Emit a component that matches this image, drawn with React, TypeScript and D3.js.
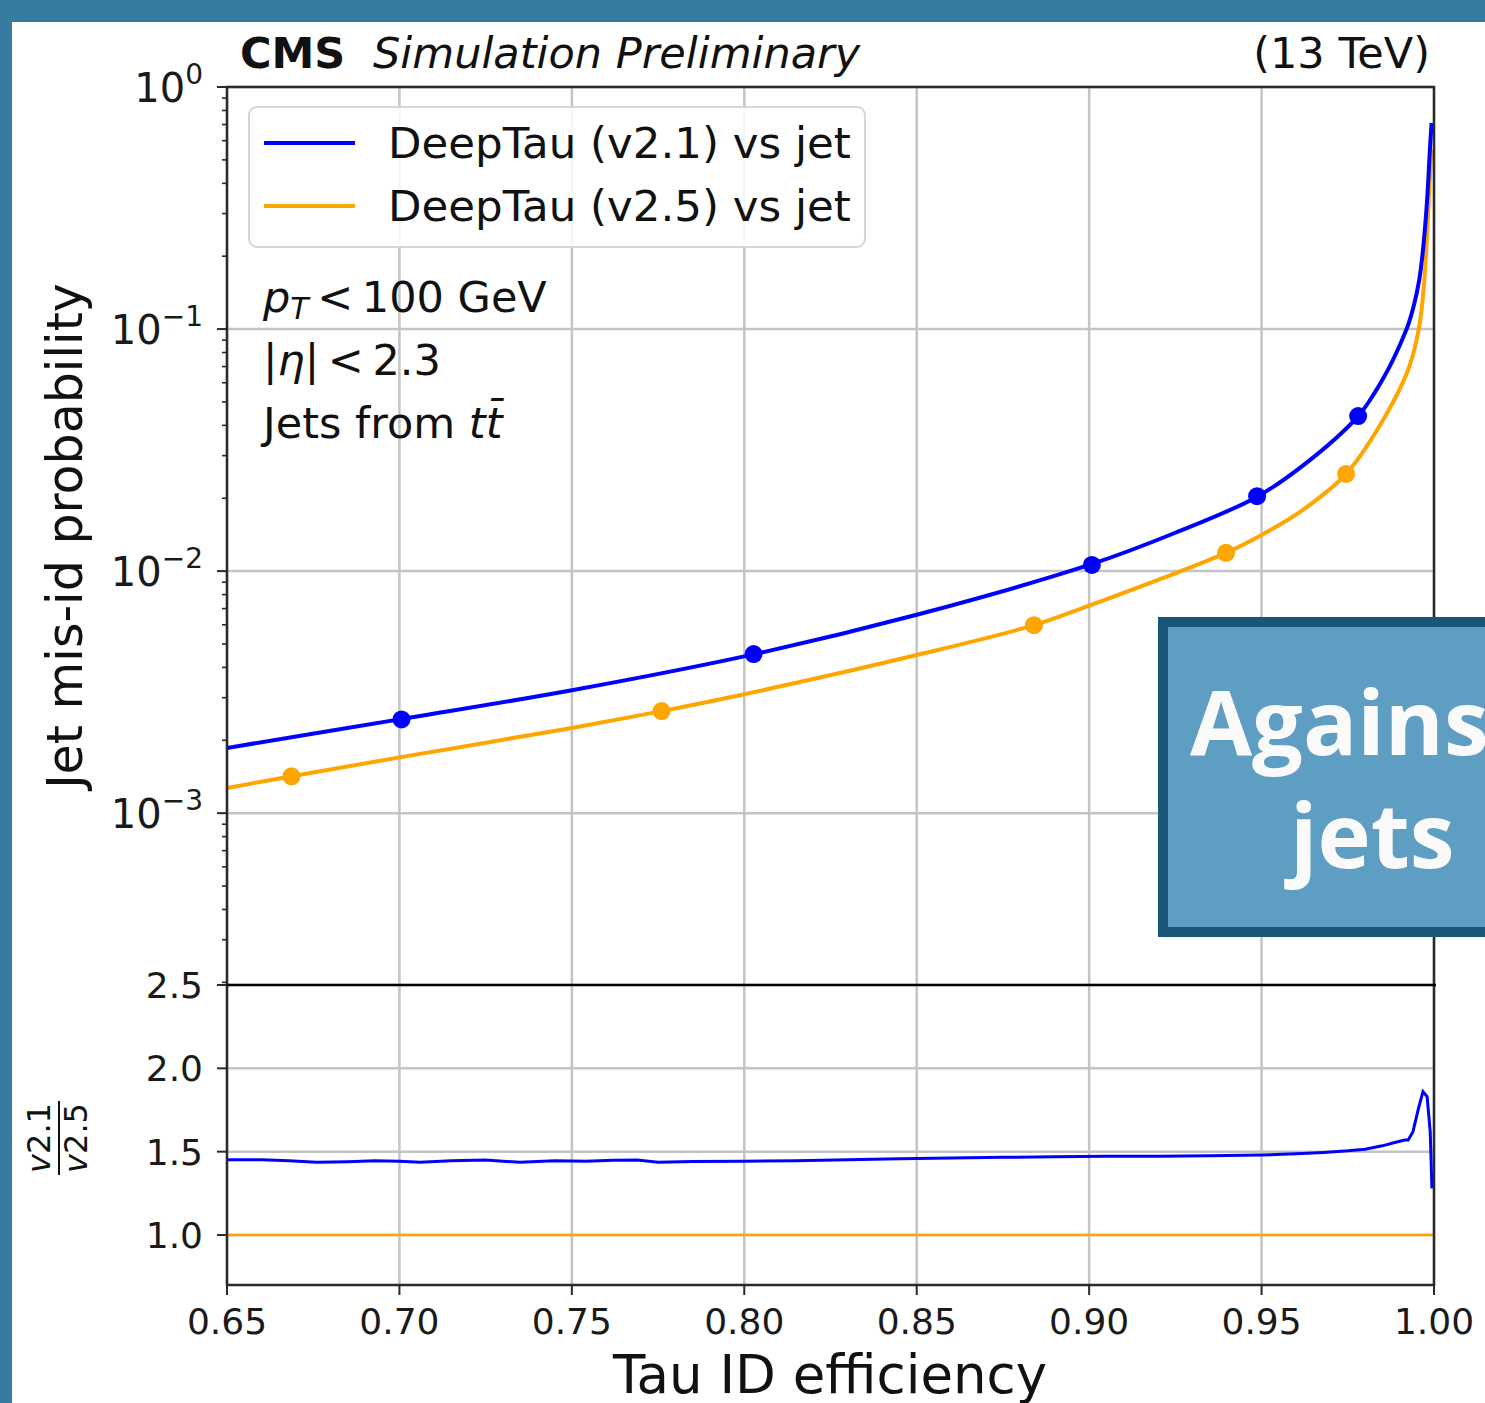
import React from "react";
import * as d3 from "d3";

// tau ID efficiency ticks and log-scale decades
const effTicks = [0.65, 0.7, 0.75, 0.8, 0.85, 0.9, 0.95, 1.0];
const misidTicks = [1, 1e-1, 1e-2, 1e-3];
const misidExp = ["0", "\u22121", "\u22122", "\u22123"];
const ratioTicks = [1.0, 1.5, 2.0, 2.5];

// DeepTau v2.1 vs jet curve
const v21Eff = [0.65, 0.7, 0.75, 0.803, 0.85, 0.9, 0.925, 0.949, 0.965, 0.978, 0.9829, 0.9872, 0.9901, 0.9925, 0.9942, 0.9957, 0.9968, 0.998, 0.9988, 0.9993];
const v21Misid = [1.86e-3, 2.44e-3, 3.22e-3, 4.54e-3, 6.6e-3, 1.06e-2, 1.44e-2, 2.04e-2, 2.95e-2, 4.37e-2, 5.49e-2, 7.03e-2, 8.59e-2, 0.104, 0.126, 0.159, 0.212, 0.341, 0.549, 0.71];
// DeepTau v2.5 vs jet curve
const v25Eff = [0.65, 0.6687, 0.7, 0.75, 0.776, 0.8, 0.85, 0.884, 0.9, 0.9397, 0.95, 0.962, 0.9745, 0.9864, 0.9928, 0.9957, 0.9972, 0.9983, 0.9992];
const v25Misid = [1.27e-3, 1.42e-3, 1.7e-3, 2.25e-3, 2.64e-3, 3.1e-3, 4.5e-3, 5.98e-3, 7.2e-3, 1.19e-2, 1.41e-2, 1.79e-2, 2.52e-2, 4.5e-2, 6.97e-2, 0.102, 0.159, 0.3, 0.55];

// working points (markers)
const v21WpEff = [0.7006, 0.8027, 0.9008, 0.9487, 0.978];
const v21WpMisid = [2.44e-3, 4.54e-3, 1.06e-2, 2.04e-2, 4.37e-2];
const v25WpEff = [0.6687, 0.776, 0.884, 0.9397, 0.9745];
const v25WpMisid = [1.42e-3, 2.64e-3, 5.98e-3, 1.19e-2, 2.52e-2];

// ratio v2.1 / v2.5
const ratioEff = [0.65, 0.66, 0.668, 0.676, 0.685, 0.693, 0.7, 0.706, 0.715, 0.725, 0.735, 0.745, 0.754, 0.762, 0.769, 0.775, 0.785, 0.8, 0.815, 0.83, 0.845, 0.86, 0.875, 0.89, 0.905, 0.92, 0.935, 0.95, 0.96, 0.968, 0.975, 0.98, 0.985, 0.9886, 0.9915, 0.9925, 0.9939, 0.9955, 0.9968, 0.998, 0.9989, 0.9994];
const ratioV21 = [1.452, 1.452, 1.446, 1.436, 1.44, 1.445, 1.442, 1.436, 1.445, 1.45, 1.436, 1.445, 1.442, 1.448, 1.45, 1.437, 1.441, 1.443, 1.445, 1.452, 1.458, 1.462, 1.466, 1.47, 1.472, 1.472, 1.476, 1.48, 1.487, 1.495, 1.505, 1.515, 1.535, 1.555, 1.57, 1.57, 1.62, 1.76, 1.86, 1.83, 1.62, 1.28];
const ratioRefEff = [0.65, 1.0];
const ratioRefVal = [1.0, 1.0];

const BLUE = "#0000ff";
const ORANGE = "#ffa500";
const FONT = "DejaVu Sans, sans-serif";

const App: React.FC = () => {
  const W = 1485;
  const H = 1403;
  const left = 227;
  const right = 1434;
  const mainTop = 87;
  const mainBottom = 985;
  const ratioBottom = 1285;

  const x = d3.scaleLinear().domain([0.65, 1.0]).range([left, right]);
  const y = d3.scaleLog().domain([1.95e-4, 1]).range([mainBottom, mainTop]);
  const yr = d3.scaleLinear().domain([0.7, 2.5]).range([ratioBottom, mainBottom]);

  const mainLine = d3
    .line<[number, number]>()
    .x((d) => x(d[0]))
    .y((d) => y(d[1]))
    .curve(d3.curveCatmullRom.alpha(0.5));
  const ratioLine = d3
    .line<[number, number]>()
    .x((d) => x(d[0]))
    .y((d) => yr(d[1]));

  const zip = (a: number[], b: number[]) => a.map((v, i) => [v, b[i]] as [number, number]);

  // minor ticks for the log axis
  const minor: number[] = [];
  [-4, -3, -2, -1].forEach((e) => {
    for (let k = 2; k <= 9; k++) {
      const v = k * Math.pow(10, e);
      if (v >= 1.95e-4 && v <= 1) minor.push(v);
    }
  });

  return (
    <svg width={W} height={H} style={{ position: "absolute", left: 0, top: 0 }} fontFamily={FONT}>
      <rect x={0} y={0} width={W} height={H} fill="#367ca0" />
      <rect x={12} y={22} width={W - 12} height={H - 22} fill="#ffffff" />

      <defs>
        <clipPath id="mainClip">
          <rect x={left} y={mainTop} width={right - left} height={mainBottom - mainTop} />
        </clipPath>
        <clipPath id="ratioClip">
          <rect x={left} y={mainBottom} width={right - left} height={ratioBottom - mainBottom} />
        </clipPath>
      </defs>

      {/* grid */}
      <g stroke="#c4c4c4" strokeWidth={2.5}>
        {effTicks.map((t) => (
          <g key={`gx${t}`}>
            <line x1={x(t)} x2={x(t)} y1={mainTop} y2={mainBottom} />
            <line x1={x(t)} x2={x(t)} y1={mainBottom} y2={ratioBottom} />
          </g>
        ))}
        {misidTicks.map((t) => (
          <line key={`gy${t}`} x1={left} x2={right} y1={y(t)} y2={y(t)} />
        ))}
        {ratioTicks.map((t) => (
          <line key={`gr${t}`} x1={left} x2={right} y1={yr(t)} y2={yr(t)} />
        ))}
      </g>

      {/* main curves */}
      <g clipPath="url(#mainClip)" fill="none" strokeWidth={4}>
        <path d={mainLine(zip(v25Eff, v25Misid)) || ""} stroke={ORANGE} />
        <path d={mainLine(zip(v21Eff, v21Misid)) || ""} stroke={BLUE} />
      </g>
      {v25WpEff.map((e, i) => (
        <circle key={`m25${i}`} cx={x(e)} cy={y(v25WpMisid[i])} r={9} fill={ORANGE} />
      ))}
      {v21WpEff.map((e, i) => (
        <circle key={`m21${i}`} cx={x(e)} cy={y(v21WpMisid[i])} r={9} fill={BLUE} />
      ))}

      {/* ratio curves */}
      <g clipPath="url(#ratioClip)" fill="none">
        <path d={ratioLine(zip(ratioRefEff, ratioRefVal)) || ""} stroke={ORANGE} strokeWidth={2.5} />
        <path d={ratioLine(zip(ratioEff, ratioV21)) || ""} stroke={BLUE} strokeWidth={3} />
      </g>

      {/* spines */}
      <g fill="none" stroke="#2a2a2a" strokeWidth={2.5}>
        <rect x={left} y={mainTop} width={right - left} height={ratioBottom - mainTop} />
      </g>
      <line x1={left} x2={right + 2} y1={mainBottom} y2={mainBottom} stroke="#000" strokeWidth={2.5} />

      {/* ticks */}
      <g stroke="#2a2a2a">
        {misidTicks.map((t) => (
          <line key={`ty${t}`} x1={left - 10} x2={left} y1={y(t)} y2={y(t)} strokeWidth={2} />
        ))}
        {minor.map((t) => (
          <line key={`tm${t}`} x1={left - 5} x2={left} y1={y(t)} y2={y(t)} strokeWidth={1.6} />
        ))}
        {ratioTicks.map((t) => (
          <line key={`tr${t}`} x1={left - 10} x2={left} y1={yr(t)} y2={yr(t)} strokeWidth={2} />
        ))}
        {effTicks.map((t) => (
          <line key={`tx${t}`} x1={x(t)} x2={x(t)} y1={ratioBottom} y2={ratioBottom + 10} strokeWidth={2} />
        ))}
      </g>

      {/* tick labels */}
      <g fill="#1a1a1a">
        {misidTicks.map((t, i) => (
          <text key={`ly${t}`} x={203} y={y(t) + 15} textAnchor="end" fontSize={40}>
            10
            <tspan dy={-18} fontSize={28}>
              {misidExp[i]}
            </tspan>
          </text>
        ))}
        {ratioTicks.map((t) => (
          <text key={`lr${t}`} x={203} y={yr(t) + 13} textAnchor="end" fontSize={36}>
            {t.toFixed(1)}
          </text>
        ))}
        {effTicks.map((t) => (
          <text key={`lx${t}`} x={x(t)} y={1334} textAnchor="middle" fontSize={36}>
            {t.toFixed(2)}
          </text>
        ))}
      </g>

      {/* axis labels */}
      <text x={830} y={1393} textAnchor="middle" fontSize={53} fill="#111">
        Tau ID efficiency
      </text>
      <text transform={`translate(82,${(mainTop + mainBottom) / 2}) rotate(-90)`} textAnchor="middle" fontSize={49} fill="#111">
        Jet mis-id probability
      </text>
      <g transform={`translate(0,1138)`} fill="#111">
        <text transform="translate(50,0) rotate(-90)" textAnchor="middle" fontSize={32}>
          <tspan fontStyle="italic">v</tspan>2.1
        </text>
        <line x1={59} x2={59} y1={-37} y2={37} stroke="#111" strokeWidth={2} />
        <text transform="translate(87,0) rotate(-90)" textAnchor="middle" fontSize={32}>
          <tspan fontStyle="italic">v</tspan>2.5
        </text>
      </g>

      {/* title */}
      <text x={240} y={68} fontSize={43} fontWeight="bold" fill="#111">
        CMS
      </text>
      <text x={373} y={68} fontSize={43} fontStyle="italic" fill="#111">
        Simulation Preliminary
      </text>
      <text x={1430} y={68} fontSize={43} textAnchor="end" fill="#111">
        (13 TeV)
      </text>

      {/* legend */}
      <rect x={249} y={107} width={616} height={140} rx={8} fill="#ffffff" fillOpacity={0.85} stroke="#d6d6d6" strokeWidth={2} />
      <line x1={264} x2={355} y1={143} y2={143} stroke={BLUE} strokeWidth={4} />
      <line x1={264} x2={355} y1={206} y2={206} stroke={ORANGE} strokeWidth={4} />
      <text x={388} y={158} fontSize={43.5} fill="#111">
        DeepTau (v2.1) vs jet
      </text>
      <text x={388} y={221} fontSize={43.5} fill="#111">
        DeepTau (v2.5) vs jet
      </text>

      {/* selection text */}
      <g fontSize={43} fill="#111">
        <text x={263} y={312}>
          <tspan fontStyle="italic">p</tspan>
          <tspan fontStyle="italic" fontSize={30} dy={7}>T</tspan>
          <tspan dy={-7}>{"\u2009<\u2009100 GeV"}</tspan>
        </text>
        <text x={263} y={375}>
          |<tspan fontStyle="italic">η</tspan>
          {"|\u2009<\u20092.3"}
        </text>
        <text x={263} y={438}>
          Jets from <tspan fontStyle="italic">t</tspan>
          <tspan fontStyle="italic">{"t\u0304"}</tspan>
        </text>
      </g>

      {/* overlay box */}
      <rect x={1163} y={622} width={340} height={310} fill="#5f9ec3" stroke="#1a5777" strokeWidth={10} />
      <text x={1190} y={755} fontSize={90} fontWeight="bold" fill="#fafafa" fontFamily="Open Sans, sans-serif">
        Against
      </text>
      <text x={1290} y={868} fontSize={90} fontWeight="bold" fill="#fafafa" fontFamily="Open Sans, sans-serif">
        jets
      </text>
    </svg>
  );
};

export default App;
